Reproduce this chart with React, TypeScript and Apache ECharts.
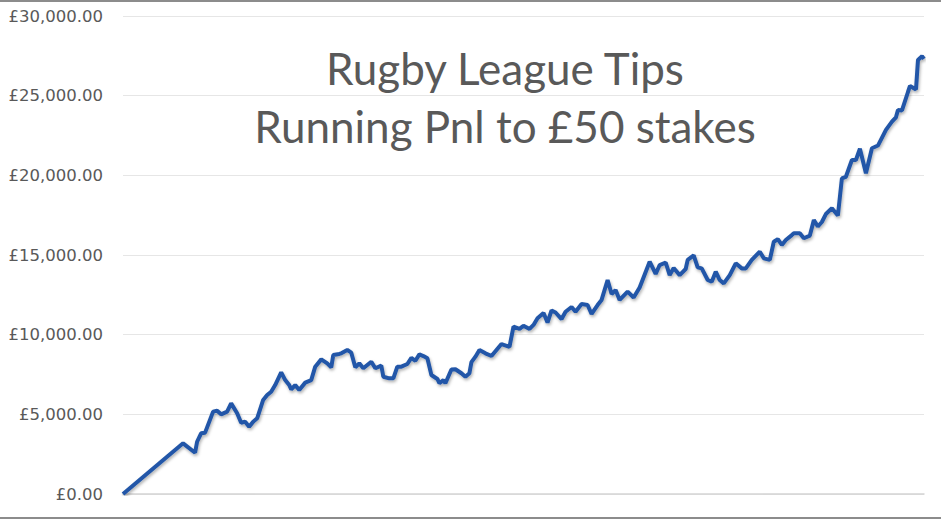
import React, { useEffect, useRef } from "react";
import * as echarts from "echarts";

const titleLines = ["Rugby League Tips", "Running Pnl to £50 stakes"];

const yTicks = [0, 5000, 10000, 15000, 20000, 25000, 30000];

const tipNumbers = [
  0, 30, 36, 37, 39, 41, 45, 47, 49, 52,
  54, 57, 59, 61, 63, 65, 67, 70, 72, 74,
  76, 79, 81, 83, 84, 86, 88, 91, 94, 96,
  99, 102, 104, 105, 108, 109, 112, 114, 116, 118,
  120, 124, 126, 129, 130, 133, 135, 137, 139, 142,
  144, 146, 148, 150, 152, 154, 157, 158, 160, 161,
  164, 166, 169, 171, 173, 174, 176, 178, 181, 184,
  189, 193, 195, 198, 200, 203, 205, 207, 210, 212,
  214, 216, 219, 221, 224, 226, 229, 232, 234, 237,
  239, 242, 244, 246, 248, 252, 255, 258, 263, 266,
  268, 271, 273, 275, 278, 281, 282, 285, 287, 289,
  292, 294, 296, 298, 300, 303, 306, 309, 311, 314,
  318, 320, 323, 325, 327, 329, 331, 334, 335, 338,
  340, 343, 345, 347, 349, 351, 354, 357, 359, 361,
  364, 366, 368, 371, 374, 377, 381, 384, 386, 387,
  389, 392, 393, 396, 397, 399, 400,
];

const runningPnl = [
  0, 3180, 2590, 3280, 3810, 3850, 5170, 5230, 5000, 5170,
  5690, 5070, 4470, 4540, 4220, 4540, 4750, 5900, 6210, 6420,
  6840, 7630, 7150, 6840, 6570, 6840, 6530, 6990, 7150, 7990,
  8450, 8200, 7950, 8720, 8790, 8830, 9040, 8870, 7950, 8200,
  7890, 8300, 7890, 8060, 7360, 7260, 7260, 7990, 7990, 8160,
  8540, 8360, 8760, 8660, 8520, 7470, 7220, 6950, 7150, 6950,
  7810, 7830, 7580, 7360, 7580, 8280, 8620, 9040, 8830, 8660,
  9410, 9240, 10500, 10360, 10560, 10360, 10610, 11030, 11360, 10760,
  11520, 11390, 10980, 11440, 11740, 11440, 11920, 11860, 11300, 11860,
  12180, 13430, 12550, 12800, 12180, 12700, 12330, 12960, 14580, 13810,
  14370, 14530, 13740, 14180, 13740, 14120, 14690, 14970, 14220, 14160,
  13430, 13320, 13950, 13430, 13220, 13740, 14480, 14160, 14160, 14690,
  15210, 14790, 14690, 15830, 15990, 15630, 15940, 16250, 16360, 16360,
  16050, 16220, 17200, 16790, 17070, 17570, 17930, 17480, 19810, 19910,
  20960, 20960, 21670, 20130, 21700, 21870, 22850, 23370, 23640, 24100,
  24070, 25230, 25610, 25390, 27240, 27470, 27310,
];

const fmt = (v: number) =>
  "£" + v.toLocaleString("en-GB", { minimumFractionDigits: 2, maximumFractionDigits: 2 });

export default function App() {
  const ref = useRef<HTMLDivElement>(null);

  useEffect(() => {
    document.body.style.margin = "0";
    if (!ref.current) return;
    const chart = echarts.init(ref.current, null, { renderer: "svg" });
    const data = tipNumbers.map((t, i) => [t, runningPnl[i]]);
    chart.setOption({
      animation: false,
      backgroundColor: "#ffffff",
      grid: { left: 123, right: 17, top: 16, bottom: 25, containLabel: false },
      xAxis: {
        type: "value",
        min: 0,
        max: tipNumbers[tipNumbers.length - 1],
        axisLine: { show: true, lineStyle: { color: "#d4d4d4", width: 1.5 } },
        axisTick: { show: false },
        axisLabel: { show: false },
        splitLine: { show: false },
      },
      yAxis: {
        type: "value",
        min: yTicks[0],
        max: yTicks[yTicks.length - 1],
        interval: yTicks[1] - yTicks[0],
        axisLine: { show: false },
        axisTick: { show: false },
        axisLabel: {
          formatter: (v: number) => fmt(v),
          color: "#595959",
          fontFamily: "DejaVu Sans",
          fontSize: 16.5,
          margin: 20,
        },
        splitLine: { show: true, lineStyle: { color: "#e6e6e6", width: 1.2 } },
      },
      series: [
        {
          type: "line",
          data,
          showSymbol: false,
          symbol: "none",
          lineStyle: {
            color: "#2357A8",
            width: 4,
            shadowColor: "rgba(0,0,0,0.3)",
            shadowBlur: 3,
            shadowOffsetX: 1,
            shadowOffsetY: 2,
          },
          z: 3,
        },
      ],
      graphic: [
        {
          type: "text",
          style: {
            text: titleLines[0],
            x: 505,
            y: 68,
            align: "center",
            verticalAlign: "middle",
            fill: "#595959",
            font: "44px Lato",
          },
        },
        {
          type: "text",
          style: {
            text: titleLines[1],
            x: 505,
            y: 126,
            align: "center",
            verticalAlign: "middle",
            fill: "#595959",
            font: "44px Lato",
          },
        },
        {
          type: "line",
          shape: { x1: 0, y1: 1, x2: 941, y2: 1 },
          style: { stroke: "#8c8c8c", lineWidth: 2 },
        },
        {
          type: "line",
          shape: { x1: 0, y1: 518, x2: 941, y2: 518 },
          style: { stroke: "#8c8c8c", lineWidth: 2 },
        },
      ],
    });
    return () => chart.dispose();
  }, []);

  return (
    <div
      ref={ref}
      style={{ position: "fixed", left: 0, top: 0, width: 941, height: 519 }}
    />
  );
}
